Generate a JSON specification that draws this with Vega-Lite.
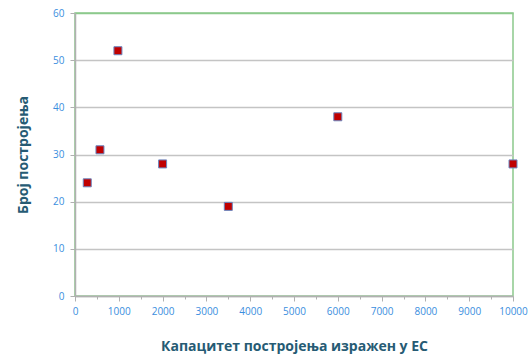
{
  "$schema": "https://vega.github.io/schema/vega-lite/v6.json",
  "autosize": "none",
  "width": 438,
  "height": 283,
  "padding": {"left": 75, "top": 13, "right": 17, "bottom": 60},
  "background": "white",
  "config": {
    "view": {"stroke": "#8cc98c", "strokeWidth": 1.5},
    "font": "Open Sans"
  },
  "data": {
    "values": [
      {"kapacitet": 280, "broj": 24},
      {"kapacitet": 570, "broj": 31},
      {"kapacitet": 980, "broj": 52},
      {"kapacitet": 2000, "broj": 28},
      {"kapacitet": 3500, "broj": 19},
      {"kapacitet": 6000, "broj": 38},
      {"kapacitet": 10000, "broj": 28}
    ]
  },
  "layer": [
    {
      "mark": {"type": "point", "shape": "square", "filled": true, "size": 64, "fill": "#c00000", "stroke": "#6a86c0", "strokeWidth": 1, "opacity": 1},
      "encoding": {
        "x": {
          "field": "kapacitet", "type": "quantitative",
          "scale": {"domain": [0, 10000], "nice": false},
          "axis": {
            "title": "Капацитет постројења изражен у ЕС",
            "values": [0, 1000, 2000, 3000, 4000, 5000, 6000, 7000, 8000, 9000, 10000],
            "format": "d",
            "grid": false,
            "domainColor": "#b0b0b0", "domainWidth": 1.5,
            "tickColor": "#b0b0b0", "tickSize": 5, "tickWidth": 1,
            "labelColor": "#3a8ede", "labelFontSize": 10, "labelPadding": 5,
            "labelFlush": false,
            "titleColor": "#265b74", "titleFontSize": 14, "titleFontWeight": "bold", "titlePadding": 23
          }
        },
        "y": {
          "field": "broj", "type": "quantitative",
          "scale": {"domain": [0, 60], "nice": false},
          "axis": {
            "title": "Број постројења",
            "values": [0, 10, 20, 30, 40, 50, 60],
            "gridColor": {"condition": {"test": "datum.value === 60", "value": "#8cc98c"}, "value": "#c4c4c4"},
            "gridWidth": 1.5,
            "domainColor": "#b0b0b0", "domainWidth": 1.5,
            "tickColor": "#b0b0b0", "tickSize": 5,
            "labelColor": "#3a8ede", "labelFontSize": 10, "labelPadding": 6,
            "titleColor": "#265b74", "titleFontSize": 14, "titleFontWeight": "bold", "titlePadding": 22
          }
        }
      }
    },
    {
      "mark": {"type": "point", "opacity": 0},
      "encoding": {
        "x": {
          "field": "kapacitet", "type": "quantitative",
          "axis": {
            "orient": "bottom",
            "title": null,
            "values": [500, 1500, 2500, 3500, 4500, 5500, 6500, 7500, 8500, 9500],
            "labels": false, "grid": false, "domain": false,
            "tickColor": "#b0b0b0", "tickSize": 3
          }
        }
      }
    }
  ],
  "resolve": {"axis": {"x": "independent"}}
}
